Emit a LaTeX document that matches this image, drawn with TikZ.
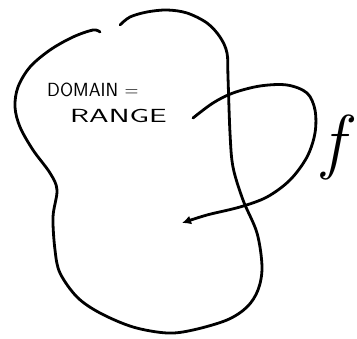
\documentclass[tikz,border=0pt]{standalone}
\usepackage{fontspec}
\usetikzlibrary{arrows.meta}

\tikzset{
  stroke/.style={line width=2.8pt, line cap=round, line join=round},
  handtext/.style={font=\sffamily\fontsize{19}{22}\selectfont, inner sep=0pt, anchor=base west},
}

\begin{document}
\begin{tikzpicture}[x=1pt,y=-1pt]
\useasboundingbox (0,0) rectangle (357,339);

% =========================
% POINTS
% =========================

\coordinate (S) at (193,118);
\coordinate (T) at (182,223);

% =========================
% ENSEMBLE
% =========================

\draw[stroke] plot[smooth, tension=0.55] coordinates {
  (120,25) (130,17) (147,12) (167,10) (187,13) (207,23) (220,37) (227,53)
  (228,77) (230,133) (233,167) (243,200) (257,233) (262,267) (258,290)
  (247,307) (227,320) (193,330) (167,333) (133,327) (100,313) (77,297)
  (60,273) (55,250) (53,217) (57,190) (50,173) (33,150) (20,127) (15,107)
  (18,87) (30,67) (50,50) (73,37) (93,30) (100,32)};

% =========================
% LABELS
% =========================

\node[handtext] (domain) at (47,97) {DOMAIN\,\,=};
\node[handtext] (range) at (70,123) {\scalebox{1.65}[1]{RANGE}};
\node[font=\itshape\fontsize{72}{72}\selectfont, inner sep=0pt] (f) at (333,148) {f};

% =========================
% FLECHE
% =========================

\draw[stroke, -{Latex[length=9pt,width=9pt]}] plot[smooth, tension=0.55] coordinates {
  (S) (213,103) (233,93) (260,86) (287,85) (307,93) (315,110) (315,133)
  (307,157) (290,180) (267,197) (240,207) (207,215) (T)};

\end{tikzpicture}
\end{document}
